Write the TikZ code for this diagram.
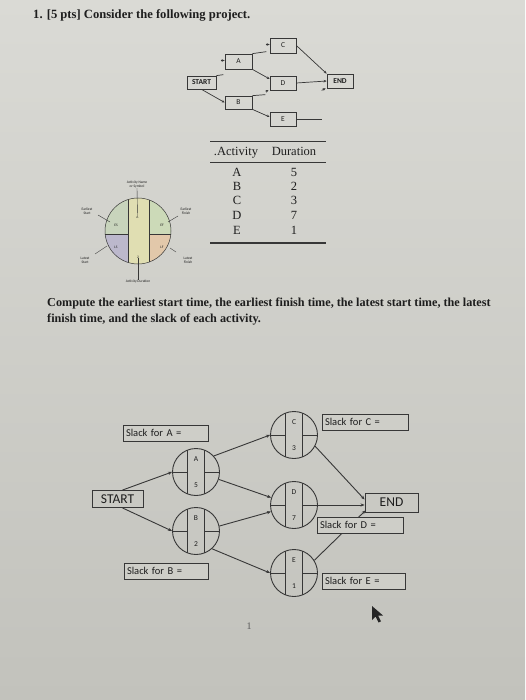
\documentclass[tikz,border=0pt]{standalone}
\usepackage{fontspec}
\setmainfont{Liberation Serif}
\newfontfamily\calib{Carlito}
\usetikzlibrary{arrows.meta,calc}
\definecolor{papertop}{RGB}{218,218,213}
\definecolor{paperbot}{RGB}{194,194,188}
\definecolor{papermid}{RGB}{206,206,200}
\definecolor{ink}{RGB}{30,30,30}
\definecolor{lin}{RGB}{55,55,55}
\definecolor{esc}{RGB}{200,212,188}
\definecolor{lsc}{RGB}{188,184,204}
\definecolor{efc}{RGB}{204,218,184}
\definecolor{lfc}{RGB}{226,200,170}
\definecolor{midc}{RGB}{224,222,178}
\tikzset{
  topbox/.style={draw=lin, line width=0.7pt, inner sep=0pt, font=\calib\fontsize{7.5}{8}\selectfont, text=ink},
  tarrow/.style={draw=lin, line width=0.7pt, -{Stealth[length=3pt,width=2.6pt]}},
  tline/.style={draw=lin, line width=0.7pt},
  tabtxt/.style={anchor=base, font=\fontsize{12.5}{14}\selectfont, text=ink},
  legtxt/.style={font=\calib\fontsize{3.6}{4}\selectfont, text=ink, align=center, inner sep=0pt},
  leglin/.style={draw=lin, line width=0.4pt},
  circ/.style={circle, draw=lin, line width=0.9pt, minimum size=47pt, inner sep=0pt},
  barrow/.style={draw=lin, line width=0.9pt, -{Stealth[length=4pt,width=3.2pt]}},
  bline/.style={draw=lin, line width=0.9pt},
  slack/.style={draw=lin, line width=0.9pt, fill=papermid, minimum height=16pt, inner xsep=3pt, inner ysep=0pt, align=left, font=\calib\fontsize{10.5}{12}\selectfont, text=ink},
  bigbox/.style={draw=lin, line width=0.9pt, minimum height=18pt, inner sep=0pt, font=\calib\fontsize{13.5}{14}\selectfont, text=ink},
  cl/.style={font=\calib\fontsize{7.5}{8}\selectfont, text=ink, inner sep=0pt}
}
\begin{document}
\begin{tikzpicture}[x=1pt,y=-1pt]
\useasboundingbox (0,0) rectangle (525,700);
\shade[top color=papertop, bottom color=paperbot] (0,0) rectangle (525,700);

% title
\node[anchor=base west, font=\bfseries\fontsize{12.6}{14}\selectfont, text=ink, inner sep=0pt] (title) at (33,18.5) {1. [5 pts] Consider the following project.};

% top network
\node[topbox, minimum width=29pt, minimum height=13pt, font=\calib\bfseries\fontsize{7.5}{8}\selectfont] (START) at (201.5,82.5) {START};
\node[topbox, minimum width=27pt, minimum height=15pt] (A) at (238.5,61.5) {A};
\node[topbox, minimum width=27pt, minimum height=13pt] (B) at (238.5,102.5) {B};
\node[topbox, minimum width=26pt, minimum height=15pt] (C) at (283,45.5) {C};
\node[topbox, minimum width=26pt, minimum height=14pt] (D) at (283,83) {D};
\node[topbox, minimum width=26pt, minimum height=14pt] (E) at (283,119) {E};
\node[topbox, minimum width=26pt, minimum height=14pt, font=\calib\bfseries\fontsize{7.5}{8}\selectfont] (END) at (340,81) {END};

\draw[tline] (START.north east) -- ++(7,-1);
\draw[tarrow] ($(A.west)+(-4,-1)$) -- ($(A.west)+(0,-1)$);
\draw[tarrow] (START.south) -- (B.west);
\draw[tline] (A.north east) -- ++(14,-2);
\draw[tarrow] ($(C.west)+(-4,-1)$) -- ($(C.west)+(0,-1)$);
\draw[tarrow] (A.south east) -- ($(D.west)+(0,-4)$);
\draw[tline] (B.north east) -- ++(13,-1);
\draw[tarrow] ($(D.south west)+(-4,1)$) -- ($(D.south west)+(-1,0)$);
\draw[tarrow] (B.south east) -- ($(E.west)+(0,-2)$);
\draw[tarrow] (C.east) -- (END.north west);
\draw[tarrow] (D.east) -- (END.west);
\draw[tline] (E.east) -- ++(26,0);
\draw[tarrow] ($(END.south west)+(-5,2)$) -- ($(END.south west)+(-1,0)$);

% table
\draw[draw=lin, line width=0.8pt] (210,141) coordinate (t1) -- (326,141) coordinate (t2);
\draw[draw=lin, line width=0.8pt] (210,162) coordinate (t3) -- (326,162) coordinate (t4);
\draw[draw=lin, line width=1.1pt] (210,243) coordinate (t5) -- (326,243) coordinate (t6);
\node[tabtxt] (hact) at (236,156) {.Activity};
\node[tabtxt] (hdur) at (294,156) {Duration};
\foreach \l/\d/\y in {A/5/177,B/2/191,C/3/205,D/7/220,E/1/235}{
  \node[tabtxt] (r\l) at (237,\y) {\l};
  \node[tabtxt] (d\l) at (294,\y) {\d};
}

% legend circle
\begin{scope}
\clip (138,231) circle (33);
\fill[esc] (100,195) rectangle (128,234);
\fill[lsc] (100,234) rectangle (128,268);
\fill[midc] (128,195) rectangle (149,268);
\fill[efc] (149,195) rectangle (176,234);
\fill[lfc] (149,234) rectangle (176,268);
\draw[leglin] (128,195) -- (128,268);
\draw[leglin] (149,195) -- (149,268);
\draw[leglin] (100,234) -- (128,234);
\draw[leglin] (149,234) -- (176,234);
\end{scope}
\node[circle, draw=lin, line width=0.5pt, minimum size=66pt, inner sep=0pt] (leg) at (138,231) {};
\node[legtxt] (lA) at (137.5,217) {A};
\node[legtxt] (lES) at (116,225) {ES};
\node[legtxt] (lEF) at (162,225) {EF};
\node[legtxt] (lLS) at (116,247) {LS};
\node[legtxt] (lLF) at (162,247) {LF};
\node[legtxt] (ldur) at (138,257) {2};
\node[legtxt] (tName) at (137,184.5) {Activity Name\\or Symbol};
\node[legtxt] (tES) at (87,211) {Earliest\\Start};
\node[legtxt] (tEF) at (186,211) {Earliest\\Finish};
\node[legtxt] (tLS) at (85,260) {Latest\\Start};
\node[legtxt] (tLF) at (188,260) {Latest\\Finish};
\node[legtxt] (tDur) at (138,282) {Activity Duration};
\draw[leglin] (tName.south) -- (lA.north);
\draw[leglin] (98,215) -- (110,222);
\draw[leglin] (178,216) -- (168,222);
\draw[leglin] (95,254) -- (107,246);
\draw[leglin] (176,252) -- (170,248);
\draw[leglin] (ldur.south) -- (tDur.north);

% instructions
\node[anchor=base west, font=\bfseries\fontsize{12.2}{14}\selectfont, text=ink, inner sep=0pt] (q1) at (47,306) {Compute the earliest start time, the earliest finish time, the latest start time, the latest};
\node[anchor=base west, font=\bfseries\fontsize{12.2}{14}\selectfont, text=ink, inner sep=0pt] (q2) at (47,322) {finish time, and the slack of each activity.};

% bottom network
\foreach \n/\l/\d/\x/\y in {cA/A/5/196/472, cB/B/2/196/531, cC/C/3/294/435, cD/D/7/294/505, cE/E/1/294/573}{
  \node[circ] (\n) at (\x,\y) {};
  \draw[bline] ($(\n.center)+(-8.5,-21.8)$) -- ($(\n.center)+(-8.5,21.8)$);
  \draw[bline] ($(\n.center)+(8.5,-21.8)$) -- ($(\n.center)+(8.5,21.8)$);
  \draw[bline] (\n.west) -- ($(\n.center)+(-8.5,0)$);
  \draw[bline] (\n.east) -- ($(\n.center)+(8.5,0)$);
  \node[cl] (\n l) at ($(\n.center)+(0,-13)$) {\l};
  \node[cl] (\n d) at ($(\n.center)+(0,13)$) {\d};
}
\node[bigbox, minimum width=51pt, minimum height=17pt] (BSTART) at (117.5,499) {START};
\node[bigbox, minimum width=53pt, minimum height=19pt] (BEND) at (391.5,502.5) {END};

\draw[barrow] ($(BSTART.north)+(5,0)$) -- (cA.west);
\draw[barrow] ($(BSTART.south)+(5,0)$) -- (cB.west);
\draw[barrow] (cA.42) -- (cC.west);
\draw[barrow] (cA.-18) -- (cD.162);
\draw[barrow] (cB.12) -- (cD.196);
\draw[barrow] (cB.-48) -- (cE.west);
\draw[barrow] (cC.-28) -- ($(BEND.west)+(0,-3)$);
\draw[barrow] (cD.east) -- (cD.east -| BEND.west);
\draw[barrow] (cE.32) -- ($(BEND.south west)+(1,-2)$);

\node[slack, text width=79pt] (sA) at (165.5,433) {Slack for A =};
\node[slack, text width=78pt] (sB) at (166,571) {Slack for B =};
\node[slack, text width=80pt] (sC) at (365,422) {Slack for C =};
\node[slack, text width=80pt] (sD) at (360,525) {Slack for D =};
\node[slack, text width=77pt] (sE) at (363.5,581) {Slack for E =};

% page number
\node[anchor=base, font=\fontsize{10}{12}\selectfont, text=gray!70!black] (pg) at (249,629) {1};

% mouse cursor
\fill[black!85] (372,606) -- (372,620) -- (375.5,616.5) -- (378.5,622.5) -- (381,621.3) -- (378,615.5) -- (383,615.5) -- cycle;
\end{tikzpicture}
\end{document}
